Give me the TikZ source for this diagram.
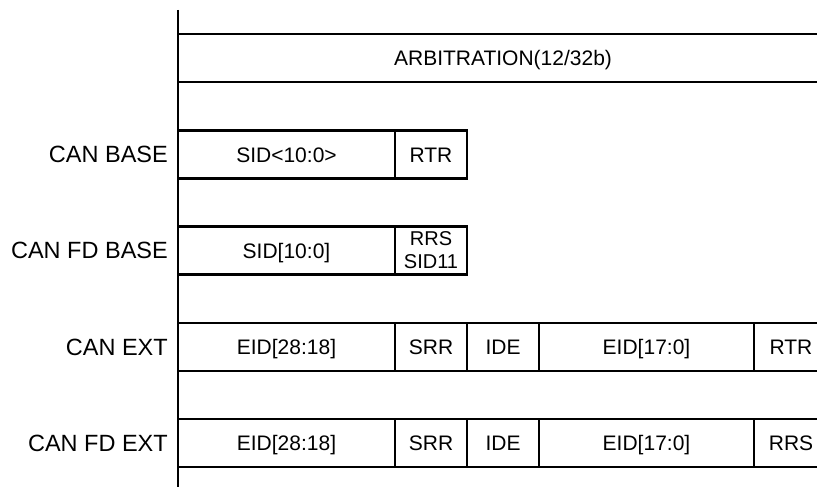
\documentclass[tikz,border=0pt]{standalone}
\usepackage{fontspec}
\setmainfont{Liberation Sans}
\begin{document}
\begin{tikzpicture}[x=1pt,y=-1pt,
  field/.style={draw=black,line width=2.1pt,rectangle,anchor=north west,inner sep=0pt,outer sep=0pt,
    minimum height=48pt,font=\fontsize{21}{25}\selectfont,text height=15pt,text depth=0pt},
  small/.style={font=\fontsize{20}{23}\selectfont,align=center,text height={},text depth={}},
  rowlabel/.style={anchor=east,inner sep=0pt,font=\fontsize{23.5}{28}\selectfont,text height=16.8pt,text depth=0pt}]
\useasboundingbox (0,0) rectangle (817,487);
\clip (0,0) rectangle (817,487);
% axis
\coordinate (axtop) at (178,10);
\coordinate (axbot) at (178,487);
\draw[line width=2.1pt] (axtop) -- (axbot);
% arbitration
\node[field,minimum width=650pt] (arb) at (178,34) {ARBITRATION(12/32b)};
% CAN BASE
\node[field,minimum width=217pt] (b1) at (178,130.5) {SID<10:0>};
\node[field,minimum width=72pt] (b2) at (395,130.5) {RTR};
\node[rowlabel] (lbase) at (168,154.5) {CAN BASE};
% CAN FD BASE
\node[field,minimum width=217pt] (f1) at (178,226.5) {SID[10:0]};
\node[field,minimum width=72pt,small] (f2) at (395,226.5) {RRS\\SID11};
\node[rowlabel] (lfdbase) at (168,250.5) {CAN FD BASE};
% CAN EXT
\node[field,minimum width=217pt] (e1) at (178,323) {EID[28:18]};
\node[field,minimum width=72pt] (e2) at (395,323) {SRR};
\node[field,minimum width=72pt] (e3) at (467,323) {IDE};
\node[field,minimum width=215pt] (e4) at (539,323) {EID[17:0]};
\node[field,minimum width=74pt] (e5) at (754,323) {RTR};
\node[rowlabel] (lext) at (168,347) {CAN EXT};
% CAN FD EXT
\node[field,minimum width=217pt] (g1) at (178,419) {EID[28:18]};
\node[field,minimum width=72pt] (g2) at (395,419) {SRR};
\node[field,minimum width=72pt] (g3) at (467,419) {IDE};
\node[field,minimum width=215pt] (g4) at (539,419) {EID[17:0]};
\node[field,minimum width=74pt] (g5) at (754,419) {RRS};
\node[rowlabel] (lfdext) at (168,443) {CAN FD EXT};
\end{tikzpicture}
\end{document}
